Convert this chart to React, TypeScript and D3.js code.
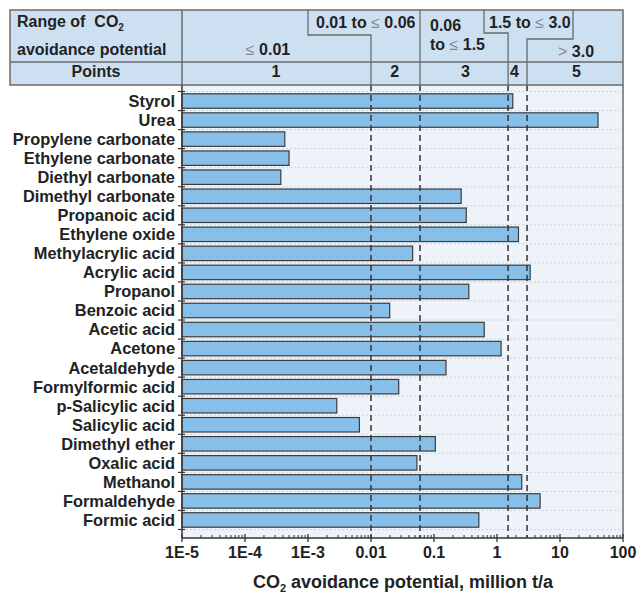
import React from "react";
import * as d3 from "d3";

const categories = [
  "Styrol", "Urea", "Propylene carbonate", "Ethylene carbonate", "Diethyl carbonate",
  "Dimethyl carbonate", "Propanoic acid", "Ethylene oxide", "Methylacrylic acid", "Acrylic acid",
  "Propanol", "Benzoic acid", "Acetic acid", "Acetone", "Acetaldehyde", "Formylformic acid",
  "p-Salicylic acid", "Salicylic acid", "Dimethyl ether", "Oxalic acid", "Methanol",
  "Formaldehyde", "Formic acid",
];
const values = [
  1.78, 40.1, 0.000428, 0.0005, 0.00037,
  0.27, 0.325, 2.19, 0.0458, 3.36,
  0.357, 0.0198, 0.627, 1.16, 0.155, 0.0275,
  0.00286, 0.00655, 0.105, 0.0536, 2.47,
  4.83, 0.515,
];
const tickValues = [1e-5, 1e-4, 1e-3, 0.01, 0.1, 1, 10, 100];
const tickLabels = ["1E-5", "1E-4", "1E-3", "0.01", "0.1", "1", "10", "100"];
const thresholds = [0.01, 0.06, 1.5, 3.0];
const pointLabels = ["1", "2", "3", "4", "5"];
const pointPositions = [3.1e-4, 0.0238, 0.316, 1.89, 18.2];

const W = 638, H = 595;
const L = 182, R = 623, TOP = 85, BOT = 538;
const HT = 10, HL = 10;
const FONT = "'Liberation Sans', Arial, sans-serif";

export default function App() {
  const x = d3.scaleLog().domain([1e-5, 100]).range([L, R]);
  const y = d3.scaleBand<string>().domain(categories).range([91.5, 529.5]).paddingInner(0.24).paddingOuter(0.12);
  const step = y.step();
  const boundaries = categories.map((c) => (y(c) as number) + y.bandwidth() / 2 - step / 2);
  boundaries.push(boundaries[boundaries.length - 1] + step);
  const minor: number[] = [];
  for (let e = -5; e < 2; e++) for (let m = 2; m <= 9; m++) minor.push(m * Math.pow(10, e));

  const border = "#6b6b6b";
  const tc = "#222";
  return (
    <svg width={W} height={H} style={{ position: "absolute", left: 0, top: 0, background: "#fff" }} fontFamily={FONT}>
      {/* header */}
      <rect x={HL} y={HT} width={R - HL} height={TOP - HT} fill="#cde0f2" />
      <rect x={L} y={TOP} width={R - L} height={BOT - TOP} fill="#eef3fa" />
      {/* grid */}
      {boundaries.map((b, i) => (
        <line key={"g" + i} x1={L} x2={R} y1={b} y2={b} stroke="#cfd4dc" strokeDasharray="2,2" strokeWidth={1} />
      ))}
      {/* bars */}
      {categories.map((c, i) => (
        <rect key={c} x={x(1e-5)} y={y(c)} width={x(values[i]) - x(1e-5)} height={y.bandwidth()}
          fill="#88bfe8" stroke="#3c3c3c" strokeWidth={1.2} />
      ))}
      {/* threshold dashed lines */}
      {thresholds.map((t, i) => (
        <line key={"t" + i} x1={x(t)} x2={x(t)} y1={TOP} y2={BOT} stroke="#333" strokeWidth={1.5} strokeDasharray="6,4" />
      ))}
      {/* header lines */}
      <rect x={HL} y={HT} width={R - HL} height={TOP - HT} fill="none" stroke={border} strokeWidth={1.5} />
      <line x1={HL} x2={R} y1={62} y2={62} stroke={border} strokeWidth={1.5} />
      <line x1={L} x2={L} y1={HT} y2={TOP} stroke={border} strokeWidth={1.5} />
      <path d={`M308,${HT} V35 H${x(thresholds[0])} V${TOP}`} fill="none" stroke={border} strokeWidth={1.3} />
      <line x1={x(thresholds[1])} x2={x(thresholds[1])} y1={HT} y2={TOP} stroke={border} strokeWidth={1.3} />
      <path d={`M484,${HT} V33 H${x(thresholds[2])} V${TOP}`} fill="none" stroke={border} strokeWidth={1.3} />
      <path d={`M573,${HT} V39 H${x(thresholds[3])} V${TOP}`} fill="none" stroke={border} strokeWidth={1.3} />
      <g fontWeight="bold" fontSize={16} fill={tc}>
        <text x={17} y={27}>{"Range of\u00A0 CO"}<tspan fontSize={10} dy={4}>2</tspan></text>
        <text x={17} y={55}>avoidance potential</text>
        <text x={96} y={77} textAnchor="middle">Points</text>
        <text x={268} y={55} textAnchor="middle"><tspan fontWeight="normal" fill="#888">≤</tspan> 0.01</text>
        <text x={316} y={28}>0.01 to <tspan fontWeight="normal" fill="#888">≤</tspan> 0.06</text>
        <text x={430} y={31}>0.06</text>
        <text x={430} y={50}>to <tspan fontWeight="normal" fill="#888">≤</tspan> 1.5</text>
        <text x={489} y={28}>1.5 to <tspan fontWeight="normal" fill="#888">≤</tspan> 3.0</text>
        <text x={558} y={57}><tspan fontWeight="normal" fill="#888">&gt;</tspan> 3.0</text>
        {pointLabels.map((p, i) => (
          <text key={"p" + i} x={x(pointPositions[i])} y={77} textAnchor="middle">{p}</text>
        ))}
      </g>
      {/* plot frame */}
      <line x1={R} x2={R} y1={TOP} y2={BOT} stroke={border} strokeWidth={1.5} />
      <line x1={L} x2={L} y1={TOP} y2={BOT} stroke="#333" strokeWidth={1.5} />
      <line x1={L} x2={R} y1={BOT} y2={BOT} stroke="#333" strokeWidth={1.5} />
      {/* y ticks */}
      {boundaries.map((b, i) => (
        <line key={"yt" + i} x1={L - 4} x2={L + 3} y1={b} y2={b} stroke="#333" strokeWidth={1.2} />
      ))}
      {/* x ticks */}
      {tickValues.map((t) => (
        <line key={"xt" + t} x1={x(t)} x2={x(t)} y1={BOT - 4} y2={BOT + 4} stroke="#333" strokeWidth={1.3} />
      ))}
      {minor.map((t, i) => (
        <line key={"mt" + i} x1={x(t)} x2={x(t)} y1={BOT - 3} y2={BOT} stroke="#333" strokeWidth={1} />
      ))}
      <g fontWeight="bold" fontSize={16} fill={tc}>
        {tickValues.map((t, i) => (
          <text key={"xl" + t} x={x(t)} y={558} textAnchor="middle">{tickLabels[i]}</text>
        ))}
      </g>
      <g fontWeight="bold" fontSize={16.4} fill={tc}>
        {categories.map((c) => (
          <text key={"yl" + c} x={175} y={(y(c) as number) + y.bandwidth() / 2} dy="0.36em" textAnchor="end">{c}</text>
        ))}
      </g>
      <text x={403} y={588} textAnchor="middle" fontWeight="bold" fontSize={18} fill={tc}>
        CO<tspan fontSize={11} dy={4}>2</tspan><tspan dy={-4}> avoidance potential, million t/a</tspan>
      </text>
    </svg>
  );
}
